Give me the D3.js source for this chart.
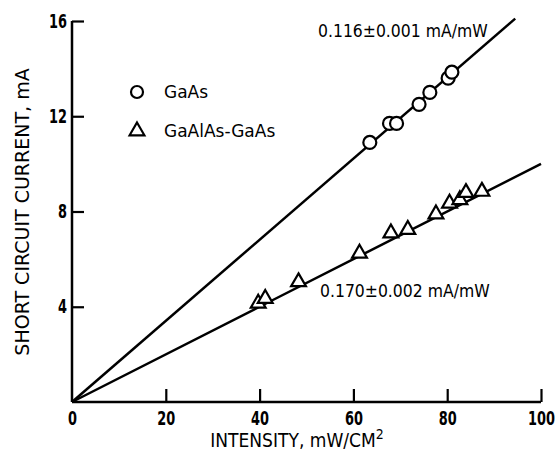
<!DOCTYPE html>
<html>
<head>
<meta charset="utf-8">
<script src="https://cdnjs.cloudflare.com/ajax/libs/d3/7.8.5/d3.min.js"></script>
<style>
  body { margin: 0; background: #fff; }
  text { font-family: "DejaVu Sans", sans-serif; fill: #000; }
</style>
</head>
<body>
<svg id="chart" width="556" height="455"></svg>
<script>
// data
var xTicks = [0, 20, 40, 60, 80, 100];
var yTicks = [0, 4, 8, 12, 16];

var gaasX = [63.5, 67.7, 69.2, 74.0, 76.3, 80.2, 81.0];
var gaasY = [10.9, 11.7, 11.7, 12.5, 13.0, 13.6, 13.85];

var algaX = [39.7, 41.2, 48.3, 61.3, 68.0, 71.6, 77.6, 80.5, 82.7, 84.0, 87.4];
var algaY = [4.1, 4.3, 5.0, 6.2, 7.05, 7.2, 7.85, 8.3, 8.45, 8.75, 8.8];

// fitted lines
var gaasFitX = [0, 94.5];
var gaasFitY = [0, 16.1];
var algaFitX = [0, 40, 100];
var algaFitY = [0, 4.0, 10.0];

var svg = d3.select("#chart");

var x = d3.scaleLinear().domain([0, 100]).range([72, 541]);
var y = d3.scaleLinear().domain([0, 16]).range([402, 21]);

// axes
var xAxis = d3.axisBottom(x).tickValues(xTicks).tickSize(-13).tickFormat(d3.format("d")).tickPadding(9);
var yAxis = d3.axisLeft(y).tickValues(yTicks).tickSize(-12).tickFormat(d3.format("d")).tickPadding(5);

var gx = svg.append("g").attr("transform", "translate(0," + y(0) + ")").call(xAxis);
var gy = svg.append("g").attr("transform", "translate(" + x(0) + ",0)").call(yAxis);

// squeeze a text horizontally around its own anchor point
function squeeze(sel, k) {
    sel.each(function () {
        var t = d3.select(this);
        var tx = +t.attr("x") || 0, ty = +t.attr("y") || 0;
        t.attr("x", 0).attr("y", 0)
            .attr("transform", "translate(" + tx + "," + ty + ") scale(" + k + ",1)");
    });
}

[gx, gy].forEach(function (g) {
    g.select(".domain").attr("stroke", "#000").attr("stroke-width", 2.5);
    g.selectAll(".tick line").attr("stroke", "#000").attr("stroke-width", 2.2);
    g.selectAll(".tick text")
        .style("font-size", "19px")
        .style("font-weight", "bold")
        .style("font-family", "DejaVu Sans")
        .attr("fill", "#000")
        .call(squeeze, 0.68);
});
gx.select(".domain").attr("d", "M" + x(0) + ",0H" + x(100));
gy.select(".domain").attr("d", "M0," + y(0) + "V" + y(16));
gx.selectAll(".tick").filter(function (d) { return d === 0; }).select("line").remove();
gy.selectAll(".tick").filter(function (d) { return d === 0; }).remove();

// fit lines
var line = d3.line().x(function (d) { return x(d[0]); }).y(function (d) { return y(d[1]); });
svg.append("path")
    .datum(d3.zip(gaasFitX, gaasFitY))
    .attr("d", line)
    .attr("fill", "none").attr("stroke", "#000").attr("stroke-width", 2.5);
svg.append("path")
    .datum(d3.zip(algaFitX, algaFitY))
    .attr("d", line)
    .attr("fill", "none").attr("stroke", "#000").attr("stroke-width", 2.5);

// markers
svg.append("g").selectAll("circle")
    .data(d3.zip(gaasX, gaasY))
    .enter().append("circle")
    .attr("cx", function (d) { return x(d[0]); })
    .attr("cy", function (d) { return y(d[1]); })
    .attr("r", 6.5)
    .attr("fill", "#fff").attr("stroke", "#000").attr("stroke-width", 2.2);

var tri = d3.symbol().type(d3.symbolTriangle).size(95);
svg.append("g").selectAll("path")
    .data(d3.zip(algaX, algaY))
    .enter().append("path")
    .attr("d", tri)
    .attr("transform", function (d) { return "translate(" + x(d[0]) + "," + (y(d[1]) - 1) + ")"; })
    .attr("fill", "#fff").attr("stroke", "#000").attr("stroke-width", 2.2);

// legend
svg.append("circle").attr("cx", 137).attr("cy", 92).attr("r", 6)
    .attr("fill", "#fff").attr("stroke", "#000").attr("stroke-width", 2.2);
svg.append("text").attr("x", 164).attr("y", 98).style("font-size", "17px").text("GaAs");
svg.append("path").attr("d", tri).attr("transform", "translate(137,131)")
    .attr("fill", "#fff").attr("stroke", "#000").attr("stroke-width", 2.2);
svg.append("text").attr("x", 164).attr("y", 137).style("font-size", "17px").text("GaAlAs-GaAs");

// slope annotations
svg.append("text").attr("x", 318).attr("y", 37).style("font-size", "18px")
    .text("0.116\u00b10.001  mA/mW").call(squeeze, 0.87);
svg.append("text").attr("x", 320).attr("y", 297).style("font-size", "18px")
    .text("0.170\u00b10.002  mA/mW").call(squeeze, 0.87);

// axis titles
var xt = svg.append("text").attr("x", 297).attr("y", 447).attr("text-anchor", "middle")
    .style("font-size", "19px");
xt.append("tspan").text("INTENSITY, mW/CM");
xt.append("tspan").attr("dy", -8).style("font-size", "14px").text("2");
xt.call(squeeze, 0.9);

svg.append("text")
    .attr("transform", "translate(29,212) rotate(-90)")
    .attr("text-anchor", "middle")
    .style("font-size", "19px")
    .text("SHORT CIRCUIT CURRENT, mA");
</script>
</body>
</html>
